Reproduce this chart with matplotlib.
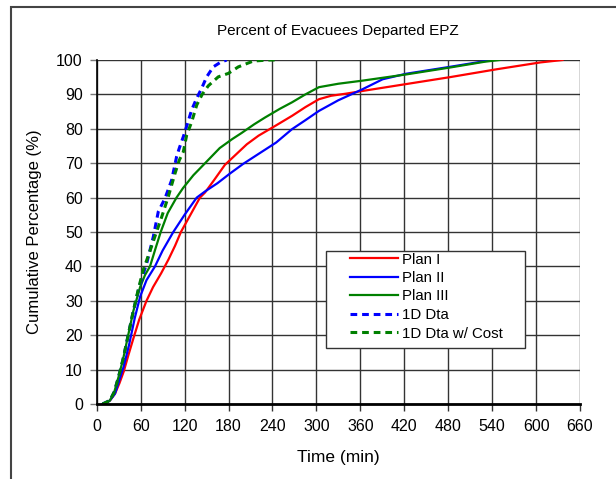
import matplotlib
matplotlib.use("Agg")
import matplotlib.pyplot as plt
from matplotlib.patches import Rectangle

plt.rcParams['font.family'] = ['Liberation Sans', 'DejaVu Sans']

# Plan I (red)
plan1_t = [10, 18, 25, 31, 37, 43, 50, 58, 68, 77, 88, 98, 107, 115, 128, 141, 148, 160, 175, 190,
           205, 221, 245, 267, 285, 303.5, 320, 340, 363, 422.5, 482, 546, 606, 636]
plan1_y = [0, 1, 3, 6, 9.5, 14, 19, 24.5, 30, 34, 38, 42, 46, 50, 55, 60, 61.5, 65, 69.5, 72.5,
           75.5, 78, 81, 83.8, 86.3, 88.6, 89.6, 90.2, 91, 93, 95, 97.3, 99.3, 100]

# Plan II (blue)
plan2_t = [8, 18, 25, 31, 37, 44, 52, 59.3, 68, 79.6, 90, 104.6, 120, 136.6, 148, 165, 182, 200,
           221, 245, 266.75, 285, 303.5, 330, 363, 390.5, 422.5, 482, 528, 540]
plan2_y = [0, 1, 3, 7, 11, 17, 25, 31.2, 36, 40, 44.6, 50, 55, 60, 61.8, 64.2, 67, 69.8,
           72.7, 76, 79.9, 82.5, 85.2, 88.3, 91.5, 94.4, 96, 98, 99.6, 100]

# Plan III (green)
plan3_t = [8, 18, 24, 30, 36, 42, 50, 59.3, 66, 72.8, 80, 87.4, 97, 109, 118, 132, 148, 168, 185,
           198, 215, 230, 250, 266.75, 285, 303.5, 330, 363, 422.5, 482, 530, 550]
plan3_y = [0, 1, 3.5, 8, 13, 19, 27, 34, 37.5, 40, 45, 50, 55.5, 60, 62.8, 66.5, 70, 74.4, 77,
           78.8, 81.3, 83.3, 85.8, 87.7, 90, 92.1, 93.1, 94, 95.8, 97.8, 99.5, 100]

# 1D Dta (blue dashed)
dta_t = [8, 18, 24, 30, 36, 42, 50, 58, 63, 68.3, 77.3, 84.1, 93.3, 102.4, 109.2, 113, 118.3,
         123.7, 129.7, 136.6, 143.4, 150.2, 159.2, 168, 177.5]
dta_y = [0, 1, 3.5, 8, 13, 19, 27, 34, 37.5, 40.9, 48.6, 55.9, 59.8, 65.1, 72, 74.5, 77.7,
         81.3, 85.5, 88.9, 91.8, 95.1, 98, 99.2, 100]

# 1D Dta w/ Cost (green dashed)
dtac_t = [8, 18, 24, 30, 36, 42, 50, 57, 63.6, 72, 80, 88.8, 97.8, 106.9, 112.8, 118.3, 122.9,
          129.7, 136.6, 144, 152.4, 166, 179.7, 193.4, 213.9, 235, 243]
dtac_y = [0, 1, 3.5, 8, 13, 19, 27, 33.5, 39, 44, 49, 54.4, 60.3, 67, 70.9, 73.3, 78.2,
          82, 86.9, 90, 92.5, 95.1, 96.1, 98, 99.7, 100, 100]

x_ticks = list(range(0, 661, 60))
y_ticks = list(range(0, 101, 10))

W, H = 616, 479
AX_L, AX_R, AX_T, AX_B = 96.7, 580, 60, 404

fig = plt.figure(figsize=(W / 100, H / 100), dpi=100)
ax = fig.add_axes([AX_L / W, 1 - AX_B / H, (AX_R - AX_L) / W, (AX_B - AX_T) / H])

# chart-area border
fig.patches.append(Rectangle((11 / W, -0.2), 1.2, (H - 7) / H + 0.2,
                             transform=fig.transFigure, fill=False,
                             edgecolor='#444444', linewidth=1.5))

ax.plot(plan1_t, plan1_y, color='#ff0000', lw=1.6, label='Plan I')
ax.plot(plan2_t, plan2_y, color='#0000ff', lw=1.6, label='Plan II')
ax.plot(plan3_t, plan3_y, color='#008000', lw=1.6, label='Plan III')
ax.plot(dta_t, dta_y, color='#0000ff', lw=2.2, ls=(0, (2.2, 1.6)), label='1D Dta')
ax.plot(dtac_t, dtac_y, color='#008000', lw=2.2, ls=(0, (2.2, 1.6)), label='1D Dta w/ Cost')

ax.set_xlim(0, 660)
ax.set_ylim(0, 100)
ax.set_xticks(x_ticks)
ax.set_yticks(y_ticks)
ax.grid(True, color='#333333', lw=1)
ax.set_axisbelow(True)
for s in ['top', 'right']:
    ax.spines[s].set_visible(False)
ax.spines['left'].set_color('black')
ax.spines['left'].set_linewidth(1.2)
ax.spines['bottom'].set_color('black')
ax.spines['bottom'].set_linewidth(2)
ax.tick_params(axis='x', direction='out', length=5, width=1, colors='#333333', labelcolor='black',
               labelsize=11.5, pad=6)
ax.tick_params(axis='y', direction='out', length=5, width=1, colors='#777777', labelcolor='black',
               labelsize=11.5, pad=5)

ax.set_title('Percent of Evacuees Departed EPZ', fontsize=11, pad=18)
ax.set_xlabel('Time (min)', fontsize=12.5, labelpad=11)
ax.set_ylabel('Cumulative Percentage (%)', fontsize=12, labelpad=10)

def fx(px):
    return (px - AX_L) / (AX_R - AX_L)

def fy(py):
    return (AX_B - py) / (AX_B - AX_T)

# legend box drawn manually (Excel-style padding)
ax.add_patch(Rectangle((fx(326), fy(348)), fx(525) - fx(326), fy(251) - fy(348),
                       transform=ax.transAxes, facecolor='white', edgecolor='#333333',
                       linewidth=1, zorder=5))
leg = ax.legend(loc='upper left', bbox_to_anchor=(fx(350), fy(252.5)),
                fontsize=10.8, frameon=False, handlelength=3.2,
                borderpad=0, labelspacing=0.3, handletextpad=0.3, borderaxespad=0)
leg.set_zorder(6)

fig.savefig('out.png', dpi=100)
